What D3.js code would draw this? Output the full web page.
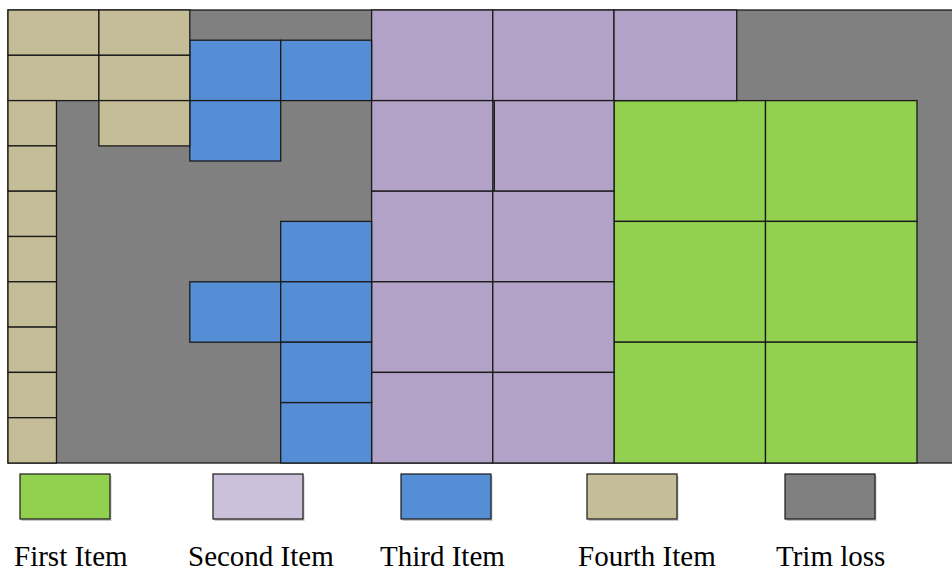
<!DOCTYPE html>
<html>
<head>
<meta charset="utf-8">
<script src="https://cdn.jsdelivr.net/npm/d3@7"></script>
<style>
  html, body { margin: 0; padding: 0; background: #fff; }
  svg { display: block; }
</style>
</head>
<body>
<svg id="chart" width="952" height="572"></svg>
<script>
// Sheet size in layout units
const sheetSize = [625, 300];

// Pieces as [x, y, width, height] in sheet units
const firstItem = [
  [400, 60, 100, 80], [500, 60, 100, 80],
  [400, 140, 100, 80], [500, 140, 100, 80],
  [400, 220, 100, 80], [500, 220, 100, 80]
];
const secondItem = [
  [240, 0, 80, 60], [320, 0, 80, 60], [400, 0, 81, 60],
  [240, 60, 80, 60], [321, 60, 79, 60],
  [240, 120, 80, 60], [320, 120, 80, 60],
  [240, 180, 80, 60], [320, 180, 80, 60],
  [240, 240, 80, 60], [320, 240, 80, 60]
];
const thirdItem = [
  [120, 20, 60, 40], [180, 20, 60, 40],
  [120, 60, 60, 40],
  [180, 140, 60, 40],
  [120, 180, 60, 40], [180, 180, 60, 40],
  [180, 220, 60, 40],
  [180, 260, 60, 40]
];
const fourthItem = [
  [0, 0, 60, 30], [60, 0, 60, 30],
  [0, 30, 60, 30], [60, 30, 60, 30],
  [60, 60, 60, 30],
  [0, 60, 32, 30], [0, 90, 32, 30], [0, 120, 32, 30], [0, 150, 32, 30],
  [0, 180, 32, 30], [0, 210, 32, 30], [0, 240, 32, 30], [0, 270, 32, 30]
];

const legendLabels = ["First Item", "Second Item", "Third Item", "Fourth Item", "Trim loss"];
const pieceColors = ["#92d050", "#b3a2c7", "#558ed5", "#c4bd97"];
const legendColors = ["#92d050", "#ccc1da", "#558ed5", "#c4bd97", "#808080"];
const trimColor = "#808080";

const svg = d3.select("#chart");

const x = d3.scaleLinear().domain([0, sheetSize[0]]).range([8, 8 + 625 * 1.515]);
const y = d3.scaleLinear().domain([0, sheetSize[1]]).range([10, 463]);

// Sheet (trim loss background)
svg.append("rect")
  .attr("x", x(0)).attr("y", y(0))
  .attr("width", x(sheetSize[0]) - x(0))
  .attr("height", y(sheetSize[1]) - y(0))
  .attr("fill", trimColor)
  .attr("stroke", "#1a1a1a")
  .attr("stroke-width", 1.3);

const groups = [firstItem, secondItem, thirdItem, fourthItem];
groups.forEach((pieces, i) => {
  svg.append("g")
    .selectAll("rect")
    .data(pieces)
    .join("rect")
    .attr("x", d => x(d[0]))
    .attr("y", d => y(d[1]))
    .attr("width", d => x(d[0] + d[2]) - x(d[0]))
    .attr("height", d => y(d[1] + d[3]) - y(d[1]))
    .attr("fill", pieceColors[i])
    .attr("stroke", "#1a1a1a")
    .attr("stroke-width", 1.3);
});

// Legend
const labelX = { "First Item": 14, "Second Item": 188, "Third Item": 380, "Fourth Item": 578, "Trim loss": 776 };
const boxX = { "First Item": 20, "Second Item": 213, "Third Item": 401, "Fourth Item": 587, "Trim loss": 785 };

const leg = svg.append("g").selectAll("g")
  .data(legendLabels)
  .join("g");

leg.append("rect")
  .attr("x", d => boxX[d] + 1.5)
  .attr("y", 476)
  .attr("width", 90)
  .attr("height", 45)
  .attr("fill", "#c8c8c8");

leg.append("rect")
  .attr("x", d => boxX[d])
  .attr("y", 474)
  .attr("width", 90)
  .attr("height", 45)
  .attr("fill", (d, i) => legendColors[i])
  .attr("stroke", "#1a1a1a")
  .attr("stroke-width", 1.2);

leg.append("text")
  .attr("x", d => labelX[d])
  .attr("y", 566)
  .attr("font-family", "'Liberation Serif', 'Times New Roman', serif")
  .attr("font-size", 29)
  .attr("fill", "#000")
  .text(d => d);
</script>
</body>
</html>
